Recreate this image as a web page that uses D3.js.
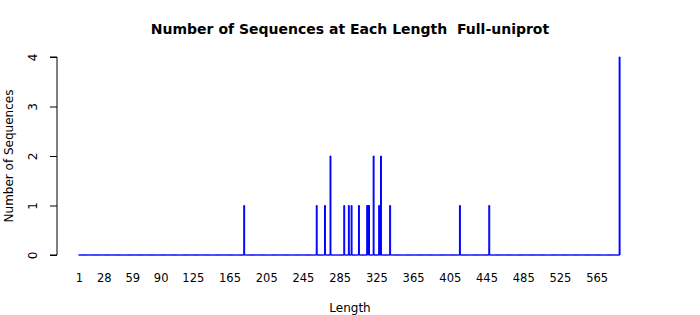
<!DOCTYPE html>
<html>
<head>
<meta charset="utf-8">
<script src="https://cdn.jsdelivr.net/npm/d3@7"></script>
<style>
  html, body { margin: 0; padding: 0; background: #ffffff; }
  svg { display: block; font-family: "DejaVu Sans", sans-serif; }
</style>
</head>
<body>
<svg id="chart" width="700" height="315"></svg>
<script>
// ---- data ----
const maxLength = 590;
const observedLengths = [181, 260, 269, 275, 290, 295, 298, 306, 315, 316, 317, 322, 328, 330, 340, 416, 448, 590];
const observedCounts  = [1,   1,   1,   2,   1,   1,   1,   1,   1,   1,   1,   2,   1,   2,   1,   1,   1,   4];
const xTickLabels = [1, 28, 59, 90, 125, 165, 205, 245, 285, 325, 365, 405, 445, 485, 525, 565];
const yTicks = [0, 1, 2, 3, 4];
const titleText = "Number of Sequences at Each Length  Full-uniprot";
const xTitle = "Length";
const yTitle = "Number of Sequences";

// full table of lengths 1..maxLength (zero where no sequence observed)
const countByLength = new Map(observedLengths.map((l, i) => [l, observedCounts[i]]));
const table = d3.range(1, maxLength + 1).map(l => ({ len: l, n: countByLength.get(l) || 0 }));

const svg = d3.select("#chart");
const x = d3.scaleLinear().domain([0.5, maxLength + 0.5]).range([78.54, 620.05]);
const y = d3.scaleLinear().domain([0, 4]).range([255, 57]);

// bars (drawn as closed paths so that zero-height bars still show their border)
svg.append("g")
  .selectAll("path")
  .data(table)
  .join("path")
  .attr("d", d => {
    const x0 = x(d.len - 0.5), x1 = x(d.len + 0.5);
    const y0 = y(0), y1 = y(d.n);
    return `M${x0},${y0}V${y1}H${x1}V${y0}Z`;
  })
  .attr("fill", "#0000ff")
  .attr("stroke", "#0000ff")
  .attr("stroke-width", 1);

// y axis
const yAxis = d3.axisLeft(y).tickValues(yTicks).tickSize(7).tickPadding(0).tickFormat(d3.format("d"));
const yg = svg.append("g").attr("transform", "translate(57,0)").call(yAxis);
yg.select(".domain").attr("stroke", "#000").attr("stroke-width", 1).attr("d", `M-7,${y(0)}H0V${y(4)}H-7`);
yg.selectAll(".tick line").attr("stroke", "#000");
yg.selectAll(".tick text")
  .attr("x", 0).attr("dy", null)
  .attr("transform", "translate(-20,0) rotate(-90)")
  .attr("text-anchor", "middle")
  .attr("font-size", 12)
  .attr("font-family", "DejaVu Sans, sans-serif")
  .attr("fill", "#000");

// x axis labels (no line, no ticks)
const xAxis = d3.axisBottom(x).tickValues(xTickLabels).tickSize(0).tickPadding(0).tickFormat(d3.format("d"));
const xg = svg.append("g").attr("transform", "translate(0,271)").call(xAxis);
xg.select(".domain").remove();
xg.selectAll(".tick text")
  .attr("y", 0).attr("dy", "0.95em")
  .attr("font-size", 11.5)
  .attr("font-family", "DejaVu Sans, sans-serif")
  .attr("fill", "#000");

// title
svg.append("text")
  .attr("x", 350).attr("y", 34)
  .attr("text-anchor", "middle")
  .attr("font-weight", "bold")
  .attr("font-size", 14)
  .attr("fill", "#000")
  .style("white-space", "pre")
  .attr("xml:space", "preserve")
  .text(titleText);

// axis titles
svg.append("text")
  .attr("x", 350).attr("y", 312)
  .attr("text-anchor", "middle")
  .attr("font-size", 12)
  .attr("fill", "#000")
  .text(xTitle);

svg.append("text")
  .attr("transform", "translate(12.5,156) rotate(-90)")
  .attr("text-anchor", "middle")
  .attr("font-size", 12)
  .attr("fill", "#000")
  .text(yTitle);
</script>
</body>
</html>
